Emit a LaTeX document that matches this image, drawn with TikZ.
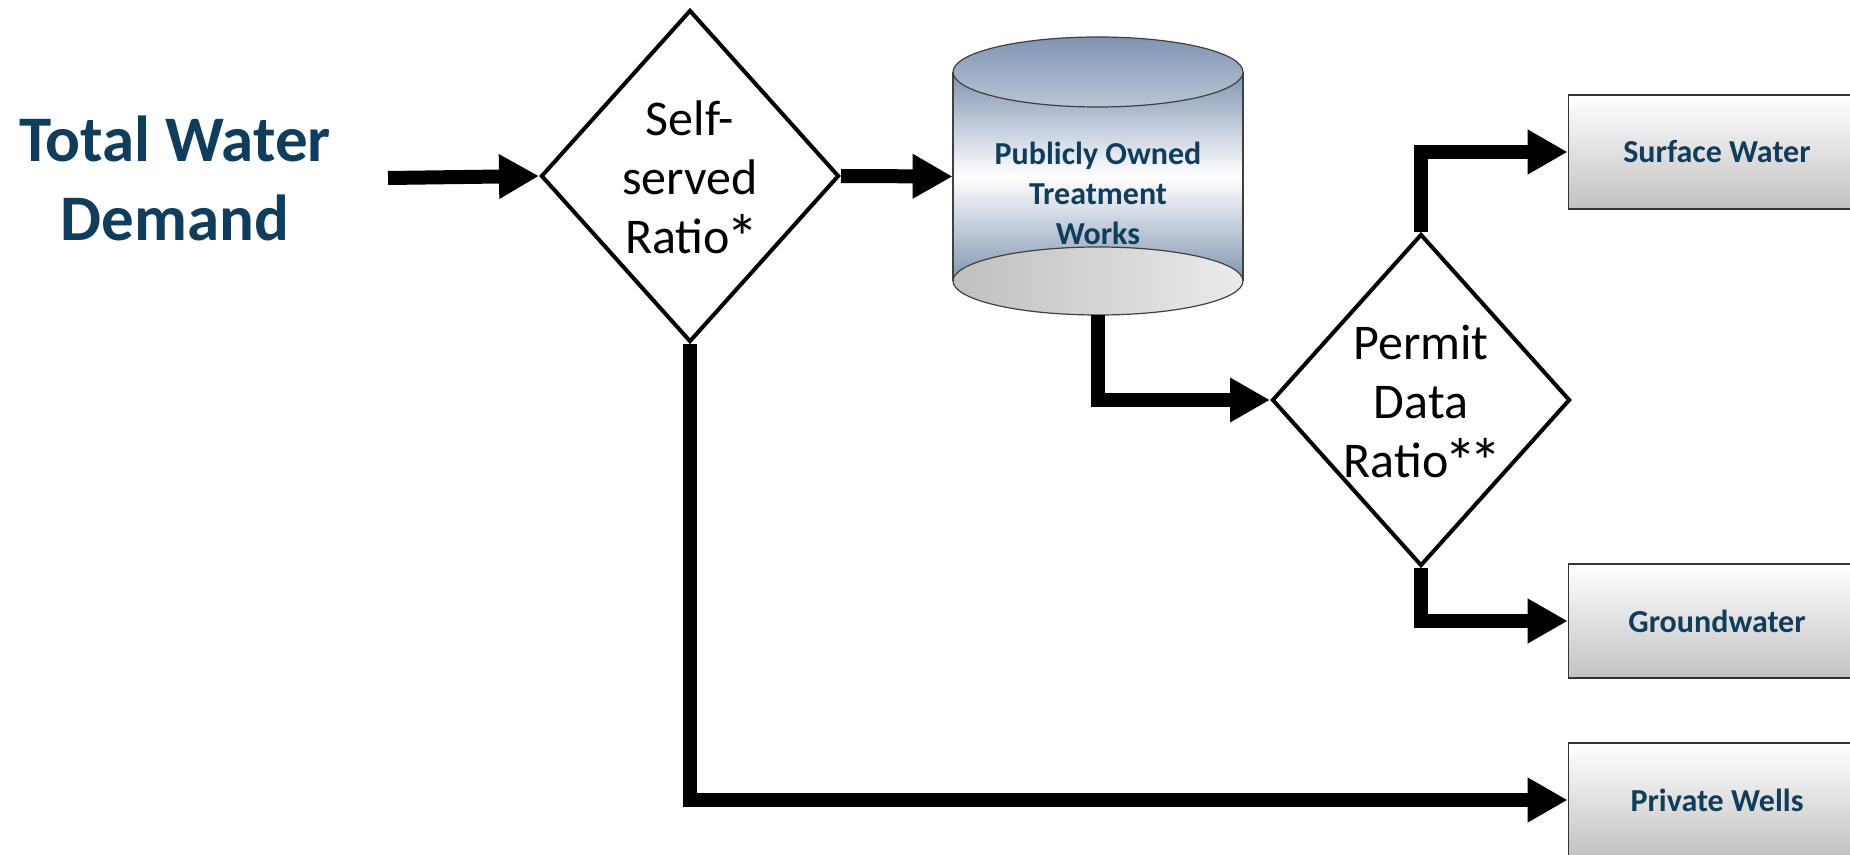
\documentclass[tikz,border=0pt]{standalone}
\usepackage{fontspec}
\setmainfont{Carlito}
\usetikzlibrary{shapes.geometric,arrows.meta}
\definecolor{navy}{RGB}{16,61,92}
\definecolor{steel}{RGB}{128,148,178}
\definecolor{steellight}{RGB}{186,198,214}
\newcommand\myast{\makebox[\fontcharwd\font`*]{\smash{\raisebox{-0.15em}{\scalebox{1.3}{*}}}}}
\begin{document}
\begin{tikzpicture}[x=0.5pt,y=-0.5pt,
  flow/.style={line width=7pt,-{Triangle[width=21pt,length=20pt]},line join=miter},
  decision/.style={diamond,draw,line width=2pt,minimum width=149pt,minimum height=166pt,inner sep=0pt},
  dectext/.style={font=\fontsize{25}{29.5}\selectfont,align=center,inner sep=0pt},
  outbox/.style={rectangle,draw=black!80,line width=0.8pt,top color=white,bottom color=black!24,
    minimum width=148.5pt,minimum height=57pt,inner sep=0pt,
    font=\bfseries\fontsize{16}{20}\selectfont,text=navy},
  cyltext/.style={font=\bfseries\fontsize{16}{20}\selectfont,text=navy,align=center,inner sep=0pt},
  title/.style={font=\bfseries\fontsize{32.5}{39.5}\selectfont,text=navy,align=center,inner sep=0pt}]
\useasboundingbox (0,0) rectangle (1850,855);
\clip (0,0) rectangle (1850,855);
\fill[white] (0,0) rectangle (1850,855);

% title
\node[title] (tw) at (175,178) {Total Water\\Demand};
\coordinate (twout) at (388,178);

% decision 1
\node[decision] (d1) at (690,176) {};
\node[dectext] (d1t) at (690,177) {Self-\\served\\Ratio\myast};

% cylinder (POTW)
\shade[top color=steel,bottom color=steel,middle color=white] (953,72) rectangle (1243,281);
\shade[left color=black!25,right color=black!8,draw=black!75,line width=0.6pt] (1098,281) ellipse [x radius=72.5pt,y radius=17pt];
\draw[black!75,line width=0.6pt] (953,72) -- (953,281) (1243,72) -- (1243,281);
\shade[top color=steel,bottom color=steellight,draw=black!75,line width=0.6pt] (1098,72) ellipse [x radius=72.5pt,y radius=17.5pt];
\node[rectangle,minimum width=145pt,minimum height=104.5pt,inner sep=0pt] (potw) at (1098,176.5) {};
\node[cyltext] (potwt) at (1098,193) {Publicly Owned\\Treatment\\Works};
\coordinate (potwbot) at (1098,315);

% decision 2
\node[decision] (d2) at (1421,400) {};
\node[dectext] (d2t) at (1421,401) {Permit\\Data\\Ratio\myast\myast};

% output boxes
\node[outbox] (sw) at (1717,152) {Surface Water};
\node[outbox] (gw) at (1717,621) {Groundwater};
\node[outbox] (pw) at (1717,800) {Private Wells};

% connectors
\draw[flow] (twout) -- (d1.west);
\draw[flow] (d1.east) -- (potw.west);
\draw[flow] (potwbot) |- (d2.west);
\draw[flow] (d2.north) |- (sw.west);
\draw[flow] (d2.south) |- (gw.west);
\draw[flow] (d1.south) |- (pw.west);
\end{tikzpicture}
\end{document}
